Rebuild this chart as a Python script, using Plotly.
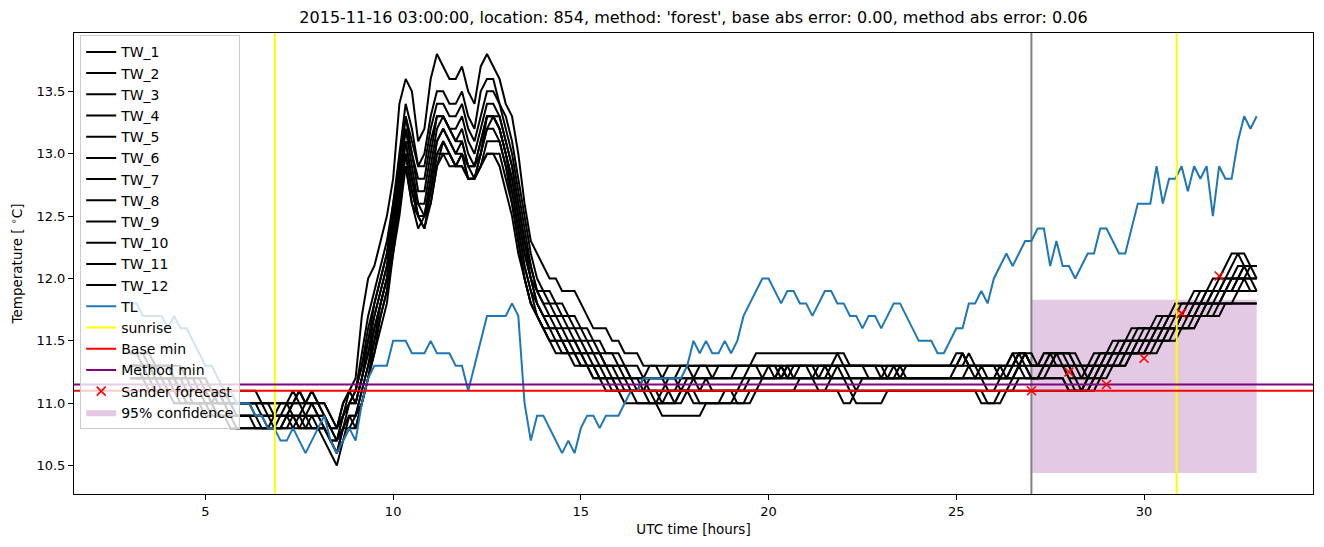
import plotly.graph_objects as go

# ---------------- data ----------------
t_start = 3.0          # hours (UTC) of first sample
n_samples = 181        # 10-minute samples up to 33 h
times = [t_start + i / 6 for i in range(n_samples)]

tw_1 = [
 11.3, 11.3, 11.3, 11.3, 11.2, 11.2,  11.2, 11.2, 11.1, 11.1, 11.1, 11.1,  11.1, 11.0, 11.0, 11.0, 11.0, 10.9,
 10.9, 10.9, 10.9, 10.8, 10.8, 10.8,  10.8, 10.9, 10.9, 10.8, 10.8, 10.9,  10.9, 10.8, 10.7, 10.6, 10.8, 10.9,
 10.9, 11.1, 11.3, 11.6, 11.8, 12.0,  12.3, 12.7, 13.1, 12.8, 12.5, 12.5,  12.8, 13.1, 13.2, 13.1, 13.0, 13.0,
 12.9, 12.9, 13.0, 13.2, 13.3, 13.2,  13.0, 12.7, 12.4, 12.1, 11.9, 11.8,  11.7, 11.6, 11.6, 11.5, 11.5, 11.4,
 11.4, 11.3, 11.3, 11.3, 11.2, 11.2,  11.2, 11.1, 11.1, 11.1, 11.1, 11.1,  11.1, 11.0, 11.0, 11.0, 11.0, 11.1,
 11.0, 11.0, 11.0, 11.0, 11.0, 11.0,  11.0, 11.1, 11.1, 11.1, 11.1, 11.1,  11.1, 11.1, 11.1, 11.1, 11.1, 11.2,
 11.2, 11.2, 11.1, 11.1, 11.2, 11.2,  11.2, 11.2, 11.1, 11.1, 11.1, 11.1,  11.1, 11.1, 11.1, 11.1, 11.1, 11.1,
 11.1, 11.1, 11.1, 11.1, 11.1, 11.1,  11.1, 11.1, 11.1, 11.1, 11.1, 11.1,  11.1, 11.1, 11.1, 11.2, 11.2, 11.2,
 11.2, 11.2, 11.2, 11.2, 11.2, 11.2,  11.1, 11.1, 11.1, 11.2, 11.2, 11.3,  11.3, 11.3, 11.3, 11.4, 11.4, 11.4,
 11.4, 11.5, 11.5, 11.5, 11.6, 11.6,  11.6, 11.6, 11.7, 11.7, 11.7, 11.8,  11.8, 11.8, 11.8, 11.9, 11.9, 11.9,
 11.9]
tw_2 = [
 11.4, 11.4, 11.4, 11.3, 11.3, 11.3,  11.3, 11.2, 11.2, 11.2, 11.2, 11.1,  11.1, 11.1, 11.1, 11.0, 11.0, 11.0,
 11.0, 11.0, 11.0, 11.0, 10.9, 10.9,  10.9, 11.0, 11.0, 11.1, 11.0, 11.0,  10.9, 10.9, 10.8, 10.7, 10.8, 11.0,
 11.1, 11.4, 11.7, 11.9, 12.1, 12.3,  12.6, 13.0, 13.4, 13.2, 12.9, 13.0,  13.3, 13.5, 13.5, 13.4, 13.4, 13.5,
 13.3, 13.2, 13.5, 13.6, 13.6, 13.4,  13.3, 13.1, 12.8, 12.5, 12.2, 12.0,  11.9, 11.9, 11.8, 11.8, 11.7, 11.7,
 11.6, 11.6, 11.5, 11.5, 11.4, 11.4,  11.4, 11.3, 11.3, 11.3, 11.2, 11.3,  11.3, 11.2, 11.3, 11.3, 11.3, 11.3,
 11.2, 11.3, 11.3, 11.3, 11.3, 11.3,  11.3, 11.3, 11.3, 11.3, 11.3, 11.2,  11.3, 11.3, 11.2, 11.3, 11.3, 11.3,
 11.3, 11.3, 11.3, 11.3, 11.2, 11.3,  11.3, 11.3, 11.3, 11.3, 11.3, 11.3,  11.2, 11.3, 11.3, 11.3, 11.3, 11.3,
 11.3, 11.3, 11.3, 11.3, 11.3, 11.3,  11.3, 11.4, 11.3, 11.3, 11.3, 11.3,  11.3, 11.2, 11.3, 11.3, 11.4, 11.4,
 11.3, 11.3, 11.3, 11.4, 11.4, 11.4,  11.3, 11.3, 11.3, 11.3, 11.4, 11.4,  11.4, 11.4, 11.5, 11.5, 11.5, 11.6,
 11.6, 11.6, 11.6, 11.7, 11.7, 11.7,  11.8, 11.8, 11.8, 11.9, 11.9, 11.9,  12.0, 12.0, 12.1, 12.2, 12.1, 12.1,
 12.0]
tw_3 = [
 11.3, 11.3, 11.2, 11.2, 11.2, 11.2,  11.1, 11.1, 11.1, 11.1, 11.0, 11.0,  11.0, 11.0, 10.9, 10.9, 10.9, 10.9,
 10.9, 10.9, 10.8, 10.8, 10.8, 10.8,  10.8, 10.8, 10.8, 10.8, 10.8, 10.8,  10.8, 10.7, 10.6, 10.5, 10.7, 10.9,
 10.8, 11.0, 11.2, 11.4, 11.7, 11.9,  12.2, 12.6, 12.9, 12.6, 12.4, 12.5,  12.6, 12.9, 13.0, 13.0, 12.9, 12.9,
 12.8, 12.8, 12.9, 13.0, 13.0, 13.0,  12.8, 12.6, 12.3, 12.0, 11.8, 11.7,  11.6, 11.5, 11.5, 11.4, 11.4, 11.4,
 11.3, 11.3, 11.2, 11.2, 11.2, 11.1,  11.1, 11.1, 11.1, 11.1, 11.1, 11.2,  11.2, 11.2, 11.1, 11.1, 11.1, 11.2,
 11.2, 11.2, 11.2, 11.1, 11.1, 11.1,  11.1, 11.1, 11.1, 11.2, 11.2, 11.2,  11.2, 11.2, 11.2, 11.2, 11.2, 11.2,
 11.2, 11.2, 11.2, 11.2, 11.3, 11.3,  11.2, 11.2, 11.2, 11.2, 11.2, 11.2,  11.2, 11.2, 11.2, 11.2, 11.2, 11.2,
 11.2, 11.2, 11.2, 11.2, 11.2, 11.2,  11.2, 11.2, 11.3, 11.3, 11.2, 11.2,  11.2, 11.2, 11.2, 11.2, 11.3, 11.3,
 11.2, 11.2, 11.2, 11.3, 11.3, 11.3,  11.2, 11.1, 11.1, 11.1, 11.1, 11.2,  11.3, 11.3, 11.3, 11.4, 11.4, 11.4,
 11.4, 11.5, 11.5, 11.6, 11.6, 11.6,  11.7, 11.7, 11.7, 11.7, 11.8, 11.8,  11.8, 11.9, 11.9, 12.0, 12.0, 12.1,
 12.1]
tw_4 = [
 11.2, 11.2, 11.2, 11.2, 11.1, 11.1,  11.1, 11.1, 11.0, 11.0, 11.0, 11.0,  11.0, 10.9, 10.9, 10.9, 10.9, 10.8,
 10.8, 10.8, 10.8, 10.8, 10.8, 10.9,  10.9, 10.9, 10.8, 10.9, 10.9, 10.8,  10.8, 10.8, 10.7, 10.7, 10.8, 10.8,
 10.9, 11.1, 11.3, 11.5, 11.8, 12.0,  12.3, 12.6, 13.0, 12.7, 12.5, 12.4,  12.7, 13.0, 13.1, 13.0, 12.9, 13.0,
 12.8, 12.8, 13.0, 13.2, 13.2, 13.1,  12.9, 12.7, 12.4, 12.1, 11.9, 11.7,  11.6, 11.6, 11.5, 11.5, 11.4, 11.4,
 11.4, 11.3, 11.3, 11.2, 11.2, 11.2,  11.1, 11.1, 11.1, 11.0, 11.0, 11.0,  11.0, 10.9, 10.9, 10.9, 10.9, 10.9,
 10.9, 10.9, 11.0, 11.0, 11.0, 11.0,  11.0, 11.0, 11.0, 11.1, 11.1, 11.1,  11.1, 11.1, 11.1, 11.1, 11.1, 11.1,
 11.1, 11.1, 11.1, 11.1, 11.1, 11.1,  11.1, 11.1, 11.0, 11.0, 11.0, 11.0,  11.0, 11.1, 11.1, 11.1, 11.1, 11.1,
 11.1, 11.1, 11.1, 11.1, 11.1, 11.1,  11.1, 11.1, 11.1, 11.1, 11.1, 11.0,  11.0, 11.0, 11.1, 11.1, 11.2, 11.2,
 11.2, 11.2, 11.2, 11.2, 11.2, 11.2,  11.1, 11.1, 11.1, 11.1, 11.2, 11.2,  11.3, 11.3, 11.3, 11.3, 11.4, 11.4,
 11.4, 11.4, 11.5, 11.5, 11.5, 11.6,  11.6, 11.6, 11.6, 11.7, 11.7, 11.7,  11.8, 11.8, 11.8, 11.8, 11.8, 11.8,
 11.8]
tw_5 = [
 11.3, 11.3, 11.3, 11.2, 11.2, 11.2,  11.2, 11.2, 11.2, 11.1, 11.1, 11.1,  11.1, 11.0, 11.1, 11.0, 11.0, 11.0,
 11.0, 11.0, 10.9, 10.9, 10.9, 10.9,  11.0, 11.0, 10.9, 10.9, 11.0, 11.0,  10.9, 10.9, 10.8, 10.8, 10.9, 11.0,
 11.0, 11.2, 11.5, 11.7, 11.9, 12.1,  12.5, 12.8, 13.2, 13.0, 12.7, 12.7,  13.0, 13.3, 13.3, 13.2, 13.1, 13.2,
 13.0, 12.9, 13.1, 13.3, 13.3, 13.2,  13.0, 12.8, 12.5, 12.2, 12.0, 11.9,  11.8, 11.7, 11.7, 11.6, 11.6, 11.5,
 11.5, 11.4, 11.4, 11.4, 11.3, 11.3,  11.3, 11.2, 11.2, 11.2, 11.1, 11.1,  11.1, 11.1, 11.1, 11.0, 11.1, 11.1,
 11.1, 11.1, 11.1, 11.1, 11.1, 11.1,  11.1, 11.1, 11.2, 11.2, 11.2, 11.2,  11.2, 11.2, 11.2, 11.2, 11.2, 11.2,
 11.2, 11.2, 11.2, 11.2, 11.2, 11.2,  11.2, 11.2, 11.2, 11.2, 11.2, 11.2,  11.2, 11.2, 11.2, 11.2, 11.2, 11.2,
 11.2, 11.2, 11.2, 11.2, 11.2, 11.2,  11.2, 11.2, 11.2, 11.2, 11.2, 11.1,  11.1, 11.2, 11.2, 11.2, 11.3, 11.2,
 11.2, 11.2, 11.3, 11.3, 11.3, 11.3,  11.3, 11.2, 11.2, 11.2, 11.3, 11.3,  11.3, 11.4, 11.4, 11.4, 11.4, 11.5,
 11.5, 11.5, 11.5, 11.6, 11.6, 11.6,  11.7, 11.7, 11.7, 11.8, 11.8, 11.8,  11.9, 11.9, 11.9, 12.0, 12.0, 12.0,
 12.0]
tw_6 = [
 11.4, 11.4, 11.4, 11.4, 11.3, 11.3,  11.3, 11.3, 11.3, 11.2, 11.2, 11.2,  11.2, 11.1, 11.1, 11.1, 11.1, 11.1,
 11.1, 11.1, 11.1, 11.0, 11.0, 11.0,  11.0, 11.0, 11.0, 11.1, 11.0, 11.1,  11.0, 11.0, 10.9, 10.8, 11.0, 11.1,
 11.2, 11.7, 12.0, 12.1, 12.3, 12.5,  12.8, 13.4, 13.6, 13.5, 13.1, 13.2,  13.6, 13.8, 13.7, 13.6, 13.6, 13.7,
 13.5, 13.4, 13.7, 13.8, 13.7, 13.6,  13.4, 13.3, 13.0, 12.6, 12.3, 12.2,  12.1, 12.0, 12.0, 11.9, 11.9, 11.9,
 11.8, 11.7, 11.6, 11.6, 11.6, 11.5,  11.5, 11.4, 11.4, 11.4, 11.3, 11.3,  11.3, 11.3, 11.3, 11.3, 11.3, 11.3,
 11.3, 11.3, 11.3, 11.2, 11.3, 11.3,  11.3, 11.3, 11.3, 11.3, 11.4, 11.4,  11.4, 11.4, 11.4, 11.4, 11.4, 11.4,
 11.4, 11.4, 11.4, 11.4, 11.4, 11.4,  11.3, 11.3, 11.3, 11.3, 11.3, 11.3,  11.3, 11.3, 11.3, 11.3, 11.3, 11.3,
 11.3, 11.3, 11.3, 11.3, 11.3, 11.3,  11.4, 11.4, 11.3, 11.3, 11.3, 11.3,  11.3, 11.3, 11.3, 11.4, 11.4, 11.4,
 11.3, 11.3, 11.4, 11.4, 11.4, 11.4,  11.4, 11.3, 11.3, 11.3, 11.3, 11.4,  11.4, 11.5, 11.5, 11.5, 11.6, 11.6,
 11.6, 11.6, 11.7, 11.7, 11.7, 11.8,  11.8, 11.8, 11.9, 11.9, 11.9, 12.0,  12.0, 12.1, 12.2, 12.2, 12.2, 12.1,
 12.1]
tw_7 = [
 11.2, 11.2, 11.2, 11.1, 11.1, 11.1,  11.1, 11.0, 11.0, 11.0, 11.0, 11.0,  10.9, 10.9, 10.9, 10.9, 10.8, 10.8,
 10.8, 10.8, 10.8, 10.8, 10.8, 10.8,  10.9, 10.9, 10.9, 10.8, 10.9, 10.9,  10.8, 10.8, 10.7, 10.6, 10.7, 10.8,
 10.8, 11.0, 11.2, 11.4, 11.6, 11.8,  12.2, 12.5, 12.9, 12.6, 12.5, 12.5,  12.7, 13.0, 13.0, 12.9, 12.9, 13.0,
 12.8, 12.8, 12.9, 13.0, 13.0, 12.9,  12.7, 12.5, 12.2, 12.0, 11.8, 11.7,  11.6, 11.5, 11.4, 11.4, 11.4, 11.3,
 11.3, 11.3, 11.2, 11.2, 11.1, 11.1,  11.1, 11.0, 11.0, 11.0, 11.0, 11.0,  11.0, 11.0, 11.0, 11.0, 11.1, 11.1,
 11.1, 11.1, 11.1, 11.1, 11.1, 11.1,  11.1, 11.0, 11.0, 11.0, 11.1, 11.1,  11.1, 11.1, 11.1, 11.1, 11.1, 11.1,
 11.1, 11.1, 11.1, 11.1, 11.1, 11.1,  11.0, 11.0, 11.1, 11.1, 11.1, 11.1,  11.1, 11.1, 11.1, 11.1, 11.1, 11.1,
 11.1, 11.1, 11.1, 11.1, 11.1, 11.1,  11.1, 11.1, 11.1, 11.1, 11.0, 11.0,  11.0, 11.1, 11.1, 11.1, 11.1, 11.1,
 11.1, 11.1, 11.1, 11.1, 11.1, 11.1,  11.1, 11.1, 11.1, 11.1, 11.2, 11.2,  11.2, 11.3, 11.3, 11.3, 11.4, 11.4,
 11.4, 11.4, 11.4, 11.5, 11.5, 11.5,  11.6, 11.6, 11.6, 11.7, 11.7, 11.7,  11.7, 11.8, 11.8, 11.8, 11.8, 11.8,
 11.8]
tw_8 = [
 11.3, 11.3, 11.3, 11.3, 11.3, 11.2,  11.2, 11.2, 11.2, 11.2, 11.1, 11.1,  11.1, 11.1, 11.0, 11.0, 11.0, 11.0,
 11.0, 11.0, 11.0, 10.9, 10.9, 10.9,  10.9, 10.9, 11.0, 11.0, 10.9, 10.9,  10.9, 10.8, 10.7, 10.7, 10.9, 11.0,
 11.0, 11.2, 11.4, 11.7, 11.9, 12.1,  12.4, 12.8, 13.2, 12.9, 12.6, 12.6,  12.9, 13.2, 13.3, 13.2, 13.1, 13.1,
 12.9, 12.9, 13.1, 13.3, 13.3, 13.3,  13.1, 12.9, 12.6, 12.3, 12.0, 11.8,  11.7, 11.7, 11.6, 11.6, 11.5, 11.5,
 11.4, 11.4, 11.4, 11.3, 11.3, 11.3,  11.2, 11.2, 11.2, 11.1, 11.1, 11.1,  11.0, 11.0, 11.1, 11.1, 11.1, 11.1,
 11.1, 11.0, 11.0, 11.0, 11.0, 11.1,  11.1, 11.1, 11.1, 11.1, 11.1, 11.2,  11.2, 11.2, 11.3, 11.2, 11.2, 11.2,
 11.2, 11.2, 11.2, 11.2, 11.2, 11.2,  11.2, 11.1, 11.1, 11.2, 11.2, 11.2,  11.2, 11.2, 11.2, 11.2, 11.2, 11.2,
 11.2, 11.2, 11.2, 11.2, 11.2, 11.2,  11.2, 11.2, 11.2, 11.2, 11.2, 11.2,  11.2, 11.2, 11.2, 11.3, 11.3, 11.4,
 11.3, 11.3, 11.3, 11.3, 11.3, 11.3,  11.2, 11.2, 11.1, 11.2, 11.2, 11.3,  11.3, 11.3, 11.4, 11.4, 11.4, 11.4,
 11.5, 11.5, 11.5, 11.5, 11.6, 11.6,  11.6, 11.7, 11.7, 11.7, 11.8, 11.8,  11.8, 11.9, 11.9, 11.9, 12.0, 12.0,
 11.9]
tw_9 = [
 11.3, 11.3, 11.2, 11.2, 11.2, 11.2,  11.2, 11.1, 11.1, 11.1, 11.1, 11.1,  11.0, 11.0, 11.0, 11.0, 10.9, 10.9,
 10.9, 10.9, 10.9, 10.9, 10.9, 10.8,  10.8, 10.9, 10.9, 10.9, 10.9, 11.0,  11.0, 10.9, 10.8, 10.7, 10.9, 11.1,
 11.0, 11.2, 11.4, 11.6, 11.8, 12.0,  12.4, 12.7, 13.1, 12.8, 12.6, 12.5,  12.8, 13.1, 13.2, 13.1, 13.0, 13.1,
 12.9, 12.8, 13.0, 13.3, 13.3, 13.2,  13.0, 12.8, 12.5, 12.2, 12.0, 11.8,  11.7, 11.6, 11.6, 11.5, 11.5, 11.5,
 11.4, 11.4, 11.3, 11.3, 11.3, 11.2,  11.2, 11.2, 11.1, 11.1, 11.1, 11.0,  11.0, 11.1, 11.1, 11.1, 11.2, 11.2,
 11.2, 11.1, 11.2, 11.2, 11.2, 11.2,  11.2, 11.3, 11.3, 11.3, 11.3, 11.3,  11.3, 11.2, 11.3, 11.3, 11.2, 11.3,
 11.3, 11.3, 11.3, 11.3, 11.3, 11.3,  11.3, 11.3, 11.3, 11.3, 11.3, 11.3,  11.3, 11.3, 11.3, 11.2, 11.3, 11.3,
 11.3, 11.3, 11.3, 11.3, 11.3, 11.3,  11.3, 11.3, 11.3, 11.3, 11.3, 11.3,  11.3, 11.3, 11.3, 11.3, 11.4, 11.4,
 11.4, 11.3, 11.3, 11.3, 11.4, 11.4,  11.4, 11.4, 11.3, 11.3, 11.3, 11.3,  11.4, 11.4, 11.4, 11.5, 11.5, 11.5,
 11.5, 11.6, 11.6, 11.6, 11.7, 11.7,  11.7, 11.7, 11.8, 11.8, 11.9, 11.9,  11.9, 12.0, 12.0, 12.0, 12.1, 12.1,
 12.1]
tw_10 = [
 11.2, 11.2, 11.2, 11.2, 11.2, 11.1,  11.1, 11.1, 11.1, 11.0, 11.0, 11.0,  11.0, 11.0, 10.9, 10.9, 10.9, 10.9,
 10.9, 10.9, 10.9, 10.9, 10.8, 10.8,  10.8, 10.8, 10.9, 10.9, 10.8, 10.8,  10.8, 10.8, 10.7, 10.6, 10.8, 10.9,
 10.9, 11.0, 11.2, 11.5, 11.7, 11.9,  12.3, 12.6, 13.0, 12.7, 12.5, 12.4,  12.6, 12.9, 13.1, 13.0, 12.9, 12.9,
 12.8, 12.8, 12.9, 13.1, 13.1, 13.1,  12.9, 12.6, 12.3, 12.0, 11.8, 11.7,  11.6, 11.5, 11.5, 11.5, 11.4, 11.4,
 11.3, 11.3, 11.3, 11.2, 11.2, 11.2,  11.1, 11.1, 11.1, 11.1, 11.2, 11.2,  11.2, 11.2, 11.2, 11.2, 11.3, 11.3,
 11.3, 11.3, 11.3, 11.3, 11.3, 11.3,  11.3, 11.3, 11.3, 11.3, 11.3, 11.3,  11.3, 11.3, 11.3, 11.2, 11.3, 11.3,
 11.3, 11.2, 11.3, 11.3, 11.3, 11.3,  11.3, 11.3, 11.3, 11.3, 11.3, 11.3,  11.3, 11.2, 11.2, 11.3, 11.3, 11.3,
 11.3, 11.3, 11.3, 11.3, 11.3, 11.3,  11.3, 11.3, 11.4, 11.3, 11.3, 11.3,  11.3, 11.3, 11.2, 11.2, 11.3, 11.4,
 11.3, 11.3, 11.3, 11.4, 11.4, 11.3,  11.3, 11.2, 11.2, 11.2, 11.3, 11.3,  11.3, 11.4, 11.4, 11.4, 11.4, 11.5,
 11.5, 11.5, 11.6, 11.6, 11.6, 11.6,  11.7, 11.7, 11.7, 11.8, 11.8, 11.9,  11.9, 11.9, 12.0, 12.0, 12.0, 11.9,
 11.9]
tw_11 = [
 11.3, 11.3, 11.3, 11.3, 11.2, 11.2,  11.2, 11.2, 11.1, 11.1, 11.1, 11.1,  11.1, 11.1, 11.0, 11.0, 11.0, 11.0,
 11.0, 11.0, 11.0, 11.0, 11.0, 10.9,  10.9, 10.9, 11.0, 11.0, 11.0, 11.1,  11.0, 10.9, 10.8, 10.8, 11.0, 11.1,
 11.1, 11.3, 11.5, 11.8, 12.0, 12.2,  12.5, 12.9, 13.3, 13.0, 12.8, 12.8,  13.1, 13.3, 13.3, 13.2, 13.2, 13.3,
 13.1, 13.0, 13.2, 13.4, 13.4, 13.3,  13.1, 12.9, 12.6, 12.3, 12.1, 11.9,  11.8, 11.8, 11.7, 11.7, 11.6, 11.6,
 11.5, 11.5, 11.4, 11.4, 11.3, 11.3,  11.3, 11.3, 11.2, 11.2, 11.2, 11.1,  11.1, 11.1, 11.2, 11.2, 11.1, 11.1,
 11.2, 11.2, 11.2, 11.2, 11.2, 11.2,  11.2, 11.2, 11.2, 11.2, 11.2, 11.2,  11.2, 11.2, 11.2, 11.3, 11.3, 11.3,
 11.3, 11.3, 11.2, 11.3, 11.3, 11.3,  11.3, 11.2, 11.2, 11.2, 11.2, 11.2,  11.2, 11.2, 11.2, 11.2, 11.2, 11.2,
 11.2, 11.2, 11.2, 11.2, 11.2, 11.2,  11.3, 11.4, 11.3, 11.2, 11.2, 11.2,  11.2, 11.2, 11.2, 11.3, 11.4, 11.3,
 11.2, 11.2, 11.3, 11.3, 11.4, 11.4,  11.4, 11.3, 11.3, 11.2, 11.3, 11.3,  11.4, 11.4, 11.4, 11.4, 11.5, 11.5,
 11.5, 11.5, 11.6, 11.6, 11.6, 11.7,  11.7, 11.7, 11.8, 11.8, 11.8, 11.9,  11.9, 11.9, 12.0, 12.0, 12.1, 12.0,
 12.0]
tw_12 = [
 11.4, 11.4, 11.3, 11.3, 11.3, 11.3,  11.3, 11.2, 11.2, 11.2, 11.2, 11.2,  11.1, 11.1, 11.1, 11.1, 11.0, 11.0,
 11.0, 11.0, 11.0, 11.0, 11.0, 11.0,  11.0, 11.0, 11.1, 11.0, 11.0, 11.0,  11.0, 11.0, 10.9, 10.8, 10.9, 11.0,
 11.1, 11.3, 11.6, 11.8, 12.0, 12.2,  12.6, 12.9, 13.3, 13.1, 12.9, 12.9,  13.2, 13.4, 13.4, 13.3, 13.3, 13.4,
 13.2, 13.1, 13.3, 13.5, 13.5, 13.4,  13.2, 13.0, 12.7, 12.4, 12.1, 11.9,  11.9, 11.8, 11.8, 11.7, 11.7, 11.6,
 11.6, 11.5, 11.5, 11.4, 11.4, 11.4,  11.3, 11.3, 11.2, 11.2, 11.2, 11.2,  11.2, 11.2, 11.2, 11.2, 11.2, 11.2,
 11.2, 11.2, 11.2, 11.2, 11.2, 11.2,  11.2, 11.2, 11.2, 11.3, 11.3, 11.3,  11.3, 11.3, 11.3, 11.3, 11.3, 11.3,
 11.3, 11.3, 11.3, 11.3, 11.3, 11.4,  11.4, 11.3, 11.3, 11.3, 11.2, 11.2,  11.2, 11.2, 11.3, 11.3, 11.2, 11.2,
 11.2, 11.2, 11.2, 11.2, 11.2, 11.2,  11.2, 11.2, 11.2, 11.2, 11.3, 11.2,  11.2, 11.3, 11.3, 11.4, 11.3, 11.3,
 11.3, 11.3, 11.4, 11.4, 11.3, 11.3,  11.3, 11.3, 11.2, 11.3, 11.3, 11.4,  11.4, 11.4, 11.4, 11.5, 11.5, 11.5,
 11.6, 11.6, 11.6, 11.6, 11.7, 11.7,  11.7, 11.8, 11.8, 11.8, 11.9, 11.9,  11.9, 12.0, 12.0, 12.1, 12.1, 12.1,
 12.1]
tl = [
 11.8, 11.8, 11.7, 11.7, 11.7, 11.7,  11.6, 11.7, 11.6, 11.6, 11.5, 11.4,  11.3, 11.3, 11.2, 11.1, 11.1, 11.0,
 11.0, 11.0, 10.9, 10.9, 10.8, 10.8,  10.7, 10.7, 10.8, 10.7, 10.6, 10.7,  10.8, 10.9, 10.7, 10.6, 10.7, 10.8,
 10.7, 11.0, 11.2, 11.3, 11.3, 11.3,  11.5, 11.5, 11.5, 11.4, 11.4, 11.4,  11.5, 11.4, 11.4, 11.4, 11.3, 11.3,
 11.1, 11.3, 11.5, 11.7, 11.7, 11.7,  11.7, 11.8, 11.7, 11.0, 10.7, 10.9,  10.9, 10.8, 10.7, 10.6, 10.7, 10.6,
 10.8, 10.9, 10.9, 10.8, 10.9, 10.9,  10.9, 11.0, 11.1, 11.1, 11.2, 11.2,  11.2, 11.2, 11.2, 11.2, 11.2, 11.3,
 11.5, 11.4, 11.5, 11.4, 11.4, 11.5,  11.4, 11.5, 11.7, 11.8, 11.9, 12.0,  12.0, 11.9, 11.8, 11.9, 11.9, 11.8,
 11.8, 11.7, 11.8, 11.9, 11.9, 11.8,  11.8, 11.7, 11.7, 11.6, 11.7, 11.7,  11.6, 11.7, 11.8, 11.8, 11.7, 11.6,
 11.5, 11.5, 11.5, 11.4, 11.4, 11.5,  11.6, 11.6, 11.8, 11.8, 11.9, 11.8,  12.0, 12.1, 12.2, 12.1, 12.2, 12.3,
 12.3, 12.4, 12.4, 12.1, 12.3, 12.1,  12.1, 12.0, 12.1, 12.2, 12.2, 12.4,  12.4, 12.3, 12.2, 12.2, 12.4, 12.6,
 12.6, 12.6, 12.9, 12.6, 12.8, 12.8,  12.9, 12.7, 12.9, 12.8, 12.9, 12.5,  12.9, 12.8, 12.8, 13.1, 13.3, 13.2,
 13.3]

tw_series = [tw_1, tw_2, tw_3, tw_4, tw_5, tw_6, tw_7, tw_8, tw_9, tw_10, tw_11, tw_12]
tw_names = ["TW_1", "TW_2", "TW_3", "TW_4", "TW_5", "TW_6",
            "TW_7", "TW_8", "TW_9", "TW_10", "TW_11", "TW_12"]

sunrise_hours = [6.85, 30.87]
forecast_hour = 27.0
base_min = 11.10
method_min = 11.15
sander_hours = [27, 28, 29, 30, 31, 32]
sander_values = [11.10, 11.25, 11.15, 11.36, 11.72, 12.02]
conf_start, conf_end = 27.0, 33.0
conf_low, conf_high = 10.44, 11.83

title_text = ("2015-11-16 03:00:00, location: 854, method: 'forest', "
              "base abs error: 0.00, method abs error: 0.06")
x_ticks = [5, 10, 15, 20, 25, 30]
y_ticks = [10.5, 11.0, 11.5, 12.0, 12.5, 13.0, 13.5]

# ---------------- axis ranges (matplotlib-like 5% margins) ----------------
all_y = [v for s in tw_series for v in s] + tl + [conf_low, conf_high] + sander_values
y_lo, y_hi = min(all_y), max(all_y)
y_pad = 0.05 * (y_hi - y_lo)
y_range = [y_lo - y_pad, y_hi + y_pad]
x_lo, x_hi = min(times), max(times)
x_pad = 0.05 * (x_hi - x_lo)
x_range = [x_lo - x_pad, x_hi + x_pad]

FONT = "DejaVu Sans"
fig = go.Figure()

# confidence region (drawn first, listed last)
fig.add_trace(go.Scatter(
    x=[conf_start, conf_end, conf_end, conf_start, conf_start],
    y=[conf_low, conf_low, conf_high, conf_high, conf_low],
    fill="toself", fillcolor="rgba(128,0,128,0.21)", mode="lines",
    line=dict(width=0, color="rgba(128,0,128,0.21)"),
    name="95% confidence", legendrank=1019))

# forecast time marker (no legend)
fig.add_trace(go.Scatter(x=[forecast_hour, forecast_hour], y=y_range, mode="lines",
                         line=dict(color="#808080", width=2), showlegend=False))

for i, (s, nm) in enumerate(zip(tw_series, tw_names)):
    fig.add_trace(go.Scatter(x=times, y=s, mode="lines", name=nm,
                             line=dict(color="black", width=2), legendrank=1000 + i))

fig.add_trace(go.Scatter(x=times, y=tl, mode="lines", name="TL",
                         line=dict(color="#1f77b4", width=2), legendrank=1013))

sx, sy = [], []
for h in sunrise_hours:
    sx += [h, h, None]
    sy += [y_range[0], y_range[1], None]
fig.add_trace(go.Scatter(x=sx, y=sy, mode="lines", name="sunrise",
                         line=dict(color="#ffff00", width=2), legendrank=1014))

fig.add_trace(go.Scatter(x=x_range, y=[base_min, base_min], mode="lines", name="Base min",
                         line=dict(color="#ff0000", width=2), legendrank=1015))
fig.add_trace(go.Scatter(x=x_range, y=[method_min, method_min], mode="lines", name="Method min",
                         line=dict(color="#800080", width=2), legendrank=1016))
fig.add_trace(go.Scatter(x=sander_hours, y=sander_values, mode="markers", name="Sander forecast",
                         marker=dict(symbol="x-thin", size=9, color="#ff0000",
                                     line=dict(width=1.6, color="#ff0000")),
                         legendrank=1017))

axis_common = dict(showline=True, mirror=True, linecolor="black", linewidth=1,
                   ticks="outside", ticklen=5, tickwidth=1, tickcolor="black",
                   showgrid=False, zeroline=False,
                   tickfont=dict(family=FONT, size=13, color="black"))

fig.update_layout(
    width=1324, height=547,
    margin=dict(l=74, r=11, t=33, b=53, pad=0),
    paper_bgcolor="white", plot_bgcolor="white",
    font=dict(family=FONT, color="black"),
    title=dict(text=title_text, x=0.5, xref="paper", xanchor="center",
               y=1 - 17 / 547, yref="container", yanchor="middle",
               font=dict(family=FONT, size=16, color="black")),
    xaxis=dict(range=x_range, tickvals=x_ticks,
               title=dict(text="UTC time [hours]", standoff=6,
                          font=dict(family=FONT, size=13.5, color="black")),
               **axis_common),
    yaxis=dict(range=y_range, tickvals=y_ticks,
               ticktext=[f"{v:.1f}" for v in y_ticks],
               title=dict(text="Temperature [ <sup>∘</sup>C]", standoff=10,
                          font=dict(family=FONT, size=13.5, color="black")),
               **axis_common),
    legend=dict(x=0.005, y=0.995, xanchor="left", yanchor="top",
                bgcolor="rgba(255,255,255,0.8)", bordercolor="#cccccc", borderwidth=1,
                font=dict(family=FONT, size=14, color="black"),
                tracegroupgap=0, itemwidth=30),
    showlegend=True,
)

fig.write_html("out.html")
